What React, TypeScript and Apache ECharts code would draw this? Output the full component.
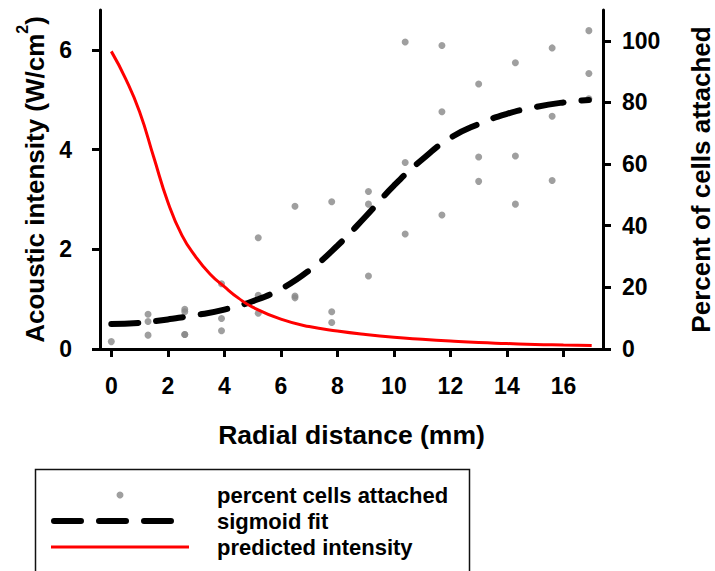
import React, { useEffect, useRef } from "react";
import * as echarts from "echarts";

const FONT = 'Arial, "Liberation Sans", Helvetica, sans-serif';

// Measured cell attachment (percent) at each radial distance (mm)
const cellDistance = [
  0,
  1.3, 1.3, 1.3,
  2.6, 2.6, 2.6, 2.6,
  3.9, 3.9, 3.9,
  5.2, 5.2, 5.2,
  6.5, 6.5, 6.5,
  7.8, 7.8, 7.8,
  9.1, 9.1, 9.1,
  10.4, 10.4, 10.4,
  11.7, 11.7, 11.7,
  13.0, 13.0, 13.0,
  14.3, 14.3, 14.3,
  15.6, 15.6, 15.6,
  16.9, 16.9, 16.9,
];
const cellPercent = [
  2.4,
  11.3, 8.9, 4.5,
  12.9, 12.1, 4.7, 4.7,
  21.2, 9.9, 5.9,
  36.1, 17.4, 11.6,
  46.3, 17.2, 16.6,
  47.8, 12.1, 8.6,
  51.1, 47.0, 23.7,
  99.6, 60.5, 37.3,
  98.5, 77.0, 43.5,
  86.0, 62.3, 54.4,
  92.9, 62.6, 47.0,
  97.7, 75.5, 54.7,
  103.3, 89.4, 81.2,
];

// Sigmoid fit
const fitDistance = [0, 1, 2, 3, 4, 5, 6, 7, 8, 9, 10, 11, 12, 13, 14, 15, 16, 16.9];
const fitPercent = [8.1, 8.5, 9.6, 11.0, 12.8, 15.5, 19.5, 25.5, 33.5, 43.0, 53.0, 61.5, 68.5, 73.0, 76.3, 78.5, 80.0, 80.8];

// Predicted acoustic intensity (W/cm^2)
const intensityDistance = [0, 0.5, 1, 1.5, 2, 2.5, 3, 3.5, 4, 4.5, 5, 6, 7, 8, 9, 10, 11, 12, 13, 14, 15, 16, 17];
const intensityValues = [5.97, 5.43, 4.76, 3.85, 2.95, 2.28, 1.84, 1.5, 1.25, 1.02, 0.84, 0.6, 0.45, 0.36, 0.29, 0.235, 0.195, 0.16, 0.13, 0.11, 0.09, 0.08, 0.07];

const xTicks = [0, 2, 4, 6, 8, 10, 12, 14, 16];
const leftTicks = [0, 2, 4, 6];
const rightTicks = [0, 20, 40, 60, 80, 100];

const seriesNames = ["percent cells attached", "sigmoid fit", "predicted intensity"];

export default function App() {
  const ref = useRef<HTMLDivElement>(null);

  useEffect(() => {
    if (!ref.current) return;
    const chart = echarts.init(ref.current, undefined, { renderer: "svg" });

    const axisLine = { show: true, onZero: false, lineStyle: { color: "#000", width: 3 } };
    const axisTickBase = { show: true, length: 8, lineStyle: { color: "#000", width: 3 } };
    const labelBase = { color: "#000", fontSize: 23, fontWeight: "bold" as const, fontFamily: FONT };
    const hiddenSymbol = { color: "rgba(0,0,0,0)", opacity: 0, borderWidth: 0 };

    const option: any = {
      animation: false,
      backgroundColor: "#fff",
      grid: { left: 100, right: 112, top: 10, bottom: 222, containLabel: false, outerBoundsMode: "none" },
      graphic: [
        {
          type: "rect",
          left: 33,
          top: 467,
          shape: { x: 0, y: 0, width: 434, height: 140 },
          style: { fill: "none", stroke: "#111", lineWidth: 1.5 },
          silent: true,
        },
      ],
      xAxis: {
        type: "value",
        min: -0.4,
        max: 17.4,
        axisLine,
        axisTick: { ...axisTickBase, customValues: xTicks },
        axisLabel: { ...labelBase, margin: 25, customValues: xTicks },
        splitLine: { show: false },
        name: "Radial distance (mm)",
        nameLocation: "middle",
        nameGap: 72,
        nameTextStyle: { color: "#000", fontSize: 26.5, fontWeight: "bold", fontFamily: FONT },
      },
      yAxis: [
        {
          type: "value",
          position: "left",
          min: 0,
          max: 6.8,
          axisLine,
          axisTick: { ...axisTickBase, customValues: leftTicks },
          axisLabel: { ...labelBase, margin: 28, customValues: leftTicks },
          splitLine: { show: false },
          name: "Acoustic intensity (W/cm{sup|2})",
          nameLocation: "middle",
          nameGap: 44,
          nameTextStyle: {
            color: "#000",
            fontSize: 26,
            fontWeight: "bold",
            fontFamily: FONT,
            rich: {
              sup: {
                color: "#000",
                fontSize: 16,
                fontWeight: "bold",
                fontFamily: FONT,
                verticalAlign: "top",
                padding: [0, 0, 26, 0],
              },
            },
          },
        },
        {
          type: "value",
          position: "right",
          min: 0,
          max: 110,
          axisLine,
          axisTick: { ...axisTickBase, customValues: rightTicks },
          axisLabel: { ...labelBase, margin: 19, customValues: rightTicks },
          splitLine: { show: false },
          name: "Percent of cells attached",
          nameLocation: "middle",
          nameRotate: 90,
          nameGap: 85,
          nameTextStyle: { color: "#000", fontSize: 26, fontWeight: "bold", fontFamily: FONT },
        },
      ],
      legend: {
        orient: "vertical",
        left: 33,
        top: 467,
        height: 200,
        padding: [17, 17, 10, 15],
        itemWidth: 138,
        itemHeight: 7,
        itemGap: 4,
        selectedMode: false,
        textStyle: {
          color: "#000",
          fontSize: 22,
          fontWeight: "bold",
          fontFamily: FONT,
          padding: [0, 0, 0, 23],
        },
        data: [
          { name: seriesNames[0], icon: "circle" },
          { name: seriesNames[1], lineStyle: { width: 6, dashOffset: 42 }, itemStyle: hiddenSymbol },
          { name: seriesNames[2], lineStyle: { width: 3 }, itemStyle: hiddenSymbol },
        ],
      },
      series: [
        {
          name: seriesNames[0],
          type: "scatter",
          yAxisIndex: 1,
          symbol: "circle",
          symbolSize: 7,
          itemStyle: { color: "#878787" },
          data: cellDistance.map((d, i) => [d, cellPercent[i]]),
          z: 2,
        },
        {
          name: seriesNames[1],
          type: "line",
          yAxisIndex: 1,
          smooth: true,
          symbol: "none",
          lineStyle: { color: "#000", width: 6, type: [27, 18], cap: "round" },
          itemStyle: { color: "#000" },
          data: fitDistance.map((d, i) => [d, fitPercent[i]]),
          z: 3,
        },
        {
          name: seriesNames[2],
          type: "line",
          yAxisIndex: 0,
          smooth: true,
          symbol: "none",
          lineStyle: { color: "#ff0000", width: 3 },
          itemStyle: { color: "#ff0000" },
          data: intensityDistance.map((d, i) => [d, intensityValues[i]]),
          z: 4,
        },
      ],
    };

    chart.setOption(option);
    return () => chart.dispose();
  }, []);

  return (
    <div
      ref={ref}
      style={{ position: "fixed", left: 0, top: 0, width: 715, height: 571, background: "#fff" }}
    />
  );
}
